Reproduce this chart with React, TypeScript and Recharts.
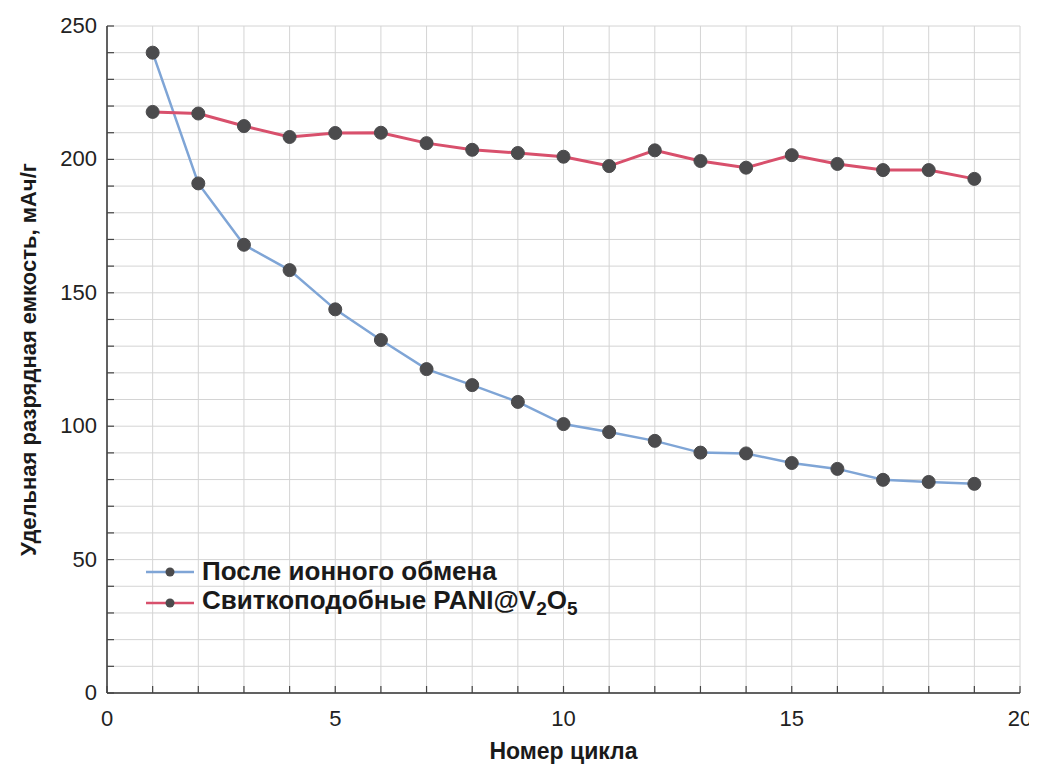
import { LineChart, Line, XAxis, YAxis, CartesianGrid } from 'recharts'

const cycles = [1, 2, 3, 4, 5, 6, 7, 8, 9, 10, 11, 12, 13, 14, 15, 16, 17, 18, 19]
const afterExchange = [240, 191, 168, 158.5, 143.8, 132.3, 121.4, 115.4, 109.1, 100.8, 97.8, 94.5, 90.1, 89.8, 86.2, 84, 79.9, 79.1, 78.4]
const scrollPani = [217.8, 217.2, 212.5, 208.4, 209.9, 210, 206.1, 203.6, 202.4, 201, 197.5, 203.4, 199.4, 196.9, 201.6, 198.3, 196, 196, 192.7]

const xTicks = [0, 1, 2, 3, 4, 5, 6, 7, 8, 9, 10, 11, 12, 13, 14, 15, 16, 17, 18, 19, 20]
const yTicks = [0, 10, 20, 30, 40, 50, 60, 70, 80, 90, 100, 110, 120, 130, 140, 150, 160, 170, 180, 190, 200, 210, 220, 230, 240, 250]

const seriesNames = ['После ионного обмена', 'Свиткоподобные PANI@V']

const data = cycles.map((c, i) => ({ cycle: c, a: afterExchange[i], b: scrollPani[i] }))

const FONT = '"Liberation Sans", Arial, Helvetica, sans-serif'
const BLUE = '#7fa5d6'
const RED = '#d8506c'
const DOT = '#4b4b4d'
const TICK_MARGIN = 10

const LeftTick = (props: any) => {
  const { x, y, payload } = props
  const ax = x + TICK_MARGIN
  return (
    <g>
      <line x1={ax} x2={ax + 7} y1={y} y2={y} stroke="#444" strokeWidth={1.2} />
      {payload.value % 50 === 0 && (
        <text x={x} y={y} dy={7} textAnchor="end" fontSize={22} fontFamily={FONT} fill="#222">
          {payload.value}
        </text>
      )}
    </g>
  )
}

const BottomTick = (props: any) => {
  const { x, y, payload } = props
  const ay = y - TICK_MARGIN
  return (
    <g>
      <line x1={x} x2={x} y1={ay} y2={ay - 7} stroke="#444" strokeWidth={1.2} />
      {payload.value % 5 === 0 && (
        <text x={x} y={ay} dy={33} textAnchor="middle" fontSize={22} fontFamily={FONT} fill="#222">
          {payload.value}
        </text>
      )}
    </g>
  )
}

// legend drawn as an overlay so it doesn't shrink the plot area
const LegendBox = () => (
  <div
    style={{
      position: 'absolute',
      left: 138,
      top: 548,
      fontFamily: FONT,
      fontWeight: 700,
      fontSize: 26,
      color: '#1a1a1a',
    }}
  >
    {[BLUE, RED].map((color, i) => (
      <div key={i} style={{ display: 'flex', alignItems: 'center', height: 31 }}>
        <svg width={52} height={14} style={{ marginRight: 4 }}>
          <line x1={0} x2={48} y1={7} y2={7} stroke={color} strokeWidth={2.5} />
          <circle cx={24} cy={7} r={4.5} fill={DOT} />
        </svg>
        <span>
          {seriesNames[i]}
          {i === 1 && (
            <>
              <sub style={{ fontSize: 19 }}>2</sub>O<sub style={{ fontSize: 19 }}>5</sub>
            </>
          )}
        </span>
      </div>
    ))}
  </div>
)

export default function App() {
  return (
    <div style={{ position: 'relative', width: 1029, height: 763, background: '#fff' }}>
      <LineChart width={1029} height={763} data={data} margin={{ top: 18, right: 17, left: 0, bottom: 0 }}>
        <CartesianGrid stroke="#d4d4d4" strokeWidth={1} />
        <XAxis
          dataKey="cycle"
          type="number"
          domain={[0, 20]}
          ticks={xTicks}
          interval={0}
          height={78}
          tickSize={0}
          tickMargin={TICK_MARGIN}
          tick={<BottomTick />}
          axisLine={{ stroke: '#333', strokeWidth: 1.5 }}
          label={{
            content: (p: any) => (
              <text
                x={p.viewBox.x + p.viewBox.width / 2}
                y={p.viewBox.y + 66}
                textAnchor="middle"
                fontSize={23}
                fontWeight={700}
                fontFamily={FONT}
                fill="#1a1a1a"
              >
                Номер цикла
              </text>
            ),
          }}
        />
        <XAxis
          xAxisId="top"
          orientation="top"
          type="number"
          domain={[0, 20]}
          ticks={xTicks}
          interval={0}
          mirror
          height={0}
          tickSize={7}
          tickFormatter={() => ''}
          tickLine={{ stroke: '#444', strokeWidth: 1.2 }}
          axisLine={{ stroke: '#333', strokeWidth: 1.5 }}
        />
        <YAxis
          type="number"
          domain={[0, 250]}
          ticks={yTicks}
          interval={0}
          width={99}
          tickSize={0}
          tickMargin={TICK_MARGIN}
          tick={<LeftTick />}
          axisLine={{ stroke: '#333', strokeWidth: 1.5 }}
          label={{
            content: (p: any) => (
              <text
                transform={`translate(${p.viewBox.x + 28}, ${p.viewBox.y + p.viewBox.height / 2}) rotate(-90)`}
                textAnchor="middle"
                fontSize={22}
                fontWeight={700}
                fontFamily={FONT}
                fill="#1a1a1a"
              >
                Удельная разрядная емкость, мАч/г
              </text>
            ),
          }}
        />
        <YAxis
          yAxisId="right"
          orientation="right"
          type="number"
          domain={[0, 250]}
          ticks={yTicks}
          interval={0}
          mirror
          width={0}
          tickSize={7}
          tickFormatter={() => ''}
          tickLine={{ stroke: '#444', strokeWidth: 1.2 }}
          axisLine={{ stroke: '#333', strokeWidth: 1.5 }}
        />
        <Line
          dataKey="a"
          stroke={BLUE}
          strokeWidth={2.5}
          dot={{ r: 6.5, fill: DOT, stroke: DOT, strokeWidth: 1 }}
          isAnimationActive={false}
        />
        <Line
          dataKey="b"
          stroke={RED}
          strokeWidth={3}
          dot={{ r: 6.5, fill: DOT, stroke: DOT, strokeWidth: 1 }}
          isAnimationActive={false}
        />
      </LineChart>
      <LegendBox />
    </div>
  )
}
